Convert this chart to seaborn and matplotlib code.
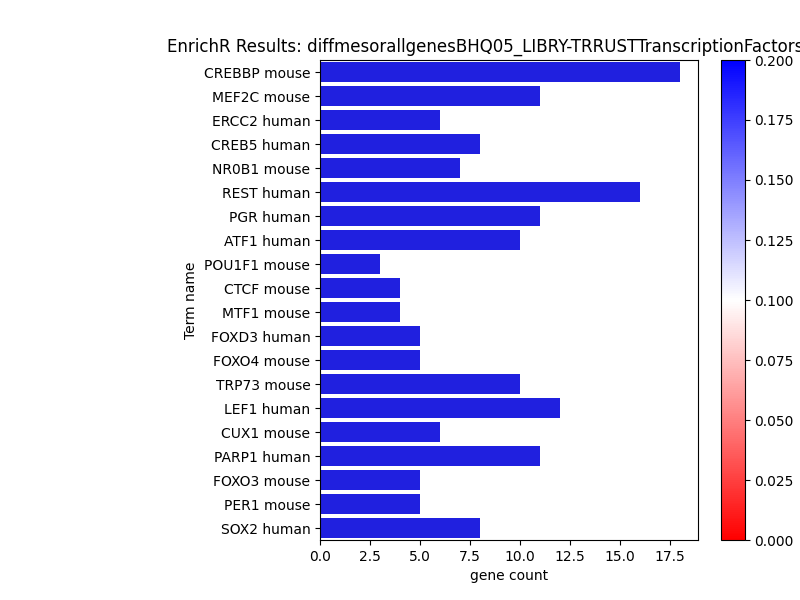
import matplotlib
matplotlib.use("Agg")
import matplotlib.pyplot as plt
import seaborn as sns
import pandas as pd
import numpy as np

terms = ["CREBBP mouse","MEF2C mouse","ERCC2 human","CREB5 human","NR0B1 mouse","REST human",
         "PGR human","ATF1 human","POU1F1 mouse","CTCF mouse","MTF1 mouse","FOXD3 human",
         "FOXO4 mouse","TRP73 mouse","LEF1 human","CUX1 mouse","PARP1 human","FOXO3 mouse",
         "PER1 mouse","SOX2 human"]
counts = [18,11,6,8,7,16,11,10,3,4,4,5,5,10,12,6,11,5,5,8]
pvals = [0.2]*len(terms)

df = pd.DataFrame({"Term name": terms, "gene count": counts, "p": pvals})
cmap = plt.get_cmap("bwr_r")
norm = matplotlib.colors.Normalize(0, 0.2)

fig = plt.figure(figsize=(8, 6), dpi=100)
ax = fig.add_axes([0.4, 0.1, 0.4725, 0.8])
sns.barplot(data=df, y="Term name", x="gene count", hue="Term name",
            palette=[cmap(norm(v)) for v in pvals], legend=False, ax=ax)
ax.set_xticks(np.arange(0, 18, 2.5))
ax.set_title("EnrichR Results: diffmesorallgenesBHQ05_LIBRY-TRRUSTTranscriptionFactors", x=0.437)
cax = fig.add_axes([0.901, 0.1, 0.03, 0.8])
sm = matplotlib.cm.ScalarMappable(norm=norm, cmap=cmap)
fig.colorbar(sm, cax=cax)
fig.savefig("out.png", dpi=100)
